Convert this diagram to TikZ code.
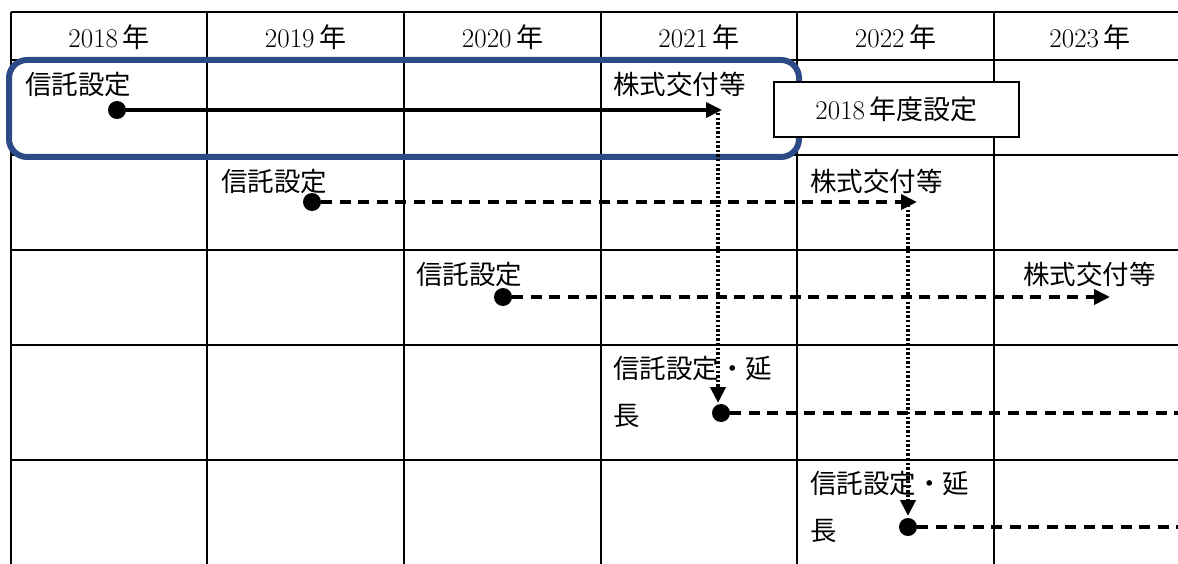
\documentclass[tikz,border=0pt]{standalone}
\usepackage{fontspec}
\setmainfont{Latin Modern Roman}
\newfontfamily\cjk{Noto Sans CJK JP}[Scale=1.0]
\usetikzlibrary{arrows.meta}
\definecolor{frameblue}{HTML}{2B4A86}
\tikzset{
  grid/.style={line width=2.2pt, black},
  hdr/.style={font=\fontsize{27}{30}\selectfont, inner sep=0pt},
  lbl/.style={font=\cjk\fontsize{26.5}{47}\selectfont, inner sep=0pt, anchor=west, align=left},
  pt/.style={circle, fill=black, inner sep=0pt, minimum size=18pt},
  tip/.style={-{Triangle[length=16pt,width=15pt]}},
  solidarrow/.style={tip, line width=3.6pt},
  dasharrow/.style={tip, line width=3.8pt, dash pattern=on 11pt off 7.5pt},
  dashline/.style={line width=3.8pt, dash pattern=on 11pt off 7.5pt},
  dotarrow/.style={tip, line width=4pt, dash pattern=on 2.4pt off 2.2pt},
  boxlbl/.style={draw, line width=2pt, fill=white, minimum width=245pt, minimum height=55pt, inner sep=0pt, font=\fontsize{27}{30}\selectfont},
  bluebox/.style={draw=frameblue, line width=6pt, rounded corners=18pt}
}
\begin{document}
\begin{tikzpicture}[x=1pt,y=-1pt]
\useasboundingbox (0,0) rectangle (1178,564);
% grid
\draw[grid] (11,12) -- (1178,12);
\foreach \yy in {60,155,250,345,460} \draw[grid] (11,\yy) -- (1178,\yy);
\foreach \xx in {11,207,404,601,797,994} \draw[grid] (\xx,12) -- (\xx,564);
% headers
\node[hdr] (h1) at (109,37) {2018\,{\cjk 年}};
\node[hdr] (h2) at (305.5,37) {2019\,{\cjk 年}};
\node[hdr] (h3) at (502.5,37) {2020\,{\cjk 年}};
\node[hdr] (h4) at (699,37) {2021\,{\cjk 年}};
\node[hdr] (h5) at (895.5,37) {2022\,{\cjk 年}};
\node[hdr] (h6) at (1090,37) {2023\,{\cjk 年}};
% blue frame
\draw[bluebox] (9,60) rectangle (799,157);
% box label
\node[boxlbl] (b) at (896.5,109.5) {2018\,{\cjk 年度設定}};
% row 1
\node[lbl] (t1) at (25,84) {信託設定};
\node[lbl] (k1) at (613,84) {株式交付等};
\node[pt] (d1) at (117,110) {};
\coordinate (e1) at (722,110);
\draw[solidarrow] (d1.center) -- (e1);
% row 2
\node[lbl] (t2) at (221,181) {信託設定};
\node[lbl] (k2) at (810,181) {株式交付等};
\node[pt] (d2) at (312,202) {};
\coordinate (e2) at (917,202);
\draw[dasharrow] (d2.east) -- (e2);
% row 3
\node[lbl] (t3) at (416,274) {信託設定};
\node[lbl] (k3) at (1023,274) {株式交付等};
\node[pt] (d3) at (503,297) {};
\coordinate (e3) at (1110,297);
\draw[dasharrow] (d3.east) -- (e3);
% row 4
\node[lbl] (t4) at (613,392) {信託設定・延\\長};
\node[pt] (d4) at (721,413) {};
\coordinate (r4) at (1178,413);
\draw[dashline] (d4.east) -- (r4);
% row 5
\node[lbl] (t5) at (810,507) {信託設定・延\\長};
\node[pt] (d5) at (908,527) {};
\coordinate (r5) at (1178,527);
\draw[dashline] (d5.east) -- (r5);
% vertical dotted
\coordinate (v1) at (718,113);
\coordinate (v1e) at (718,403);
\draw[dotarrow] (v1) -- (v1e);
\coordinate (v2) at (908,205);
\coordinate (v2e) at (908,516);
\draw[dotarrow] (v2) -- (v2e);
\end{tikzpicture}
\end{document}
